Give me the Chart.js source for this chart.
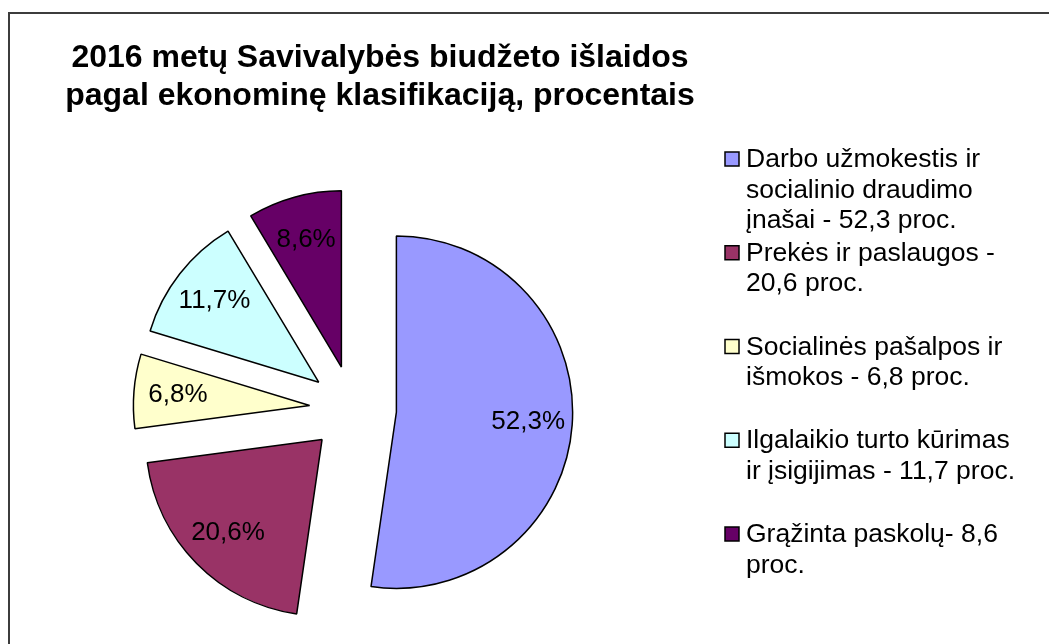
<!DOCTYPE html>
<html>
<head>
<meta charset="utf-8">
<script src="https://cdn.jsdelivr.net/npm/chart.js@4.4.0/dist/chart.umd.min.js"></script>
<style>
  html, body { margin: 0; padding: 0; background: #fff; overflow: hidden; }
</style>
</head>
<body>
<canvas id="myChart" width="1049" height="644"></canvas>
<script>
const categories = [
  'Darbo užmokestis ir socialinio draudimo įnašai - 52,3 proc.',
  'Prekės ir paslaugos - 20,6 proc.',
  'Socialinės pašalpos ir išmokos - 6,8 proc.',
  'Ilgalaikio turto kūrimas ir įsigijimas - 11,7 proc.',
  'Grąžinta paskolų- 8,6 proc.'
];
const values = [52.3, 20.6, 6.8, 11.7, 8.6];
const sliceLabels = ['52,3%', '20,6%', '6,8%', '11,7%', '8,6%'];
const titleLines = [
  '2016 metų Savivalybės biudžeto išlaidos',
  'pagal ekonominę klasifikaciją, procentais'
];

const colors = ['#9999FF', '#993366', '#FFFFCC', '#CCFFFF', '#660066'];
const font = '"Liberation Sans", Arial, sans-serif';
const explode = 43.5; // every slice is pulled out of the pie

function wrapText(ctx, text, maxW) {
  const words = text.split(' ');
  const lines = [];
  let line = '';
  words.forEach(function (w) {
    const test = line ? line + ' ' + w : w;
    if (line && ctx.measureText(test).width > maxW) {
      lines.push(line);
      line = w;
    } else {
      line = test;
    }
  });
  if (line) lines.push(line);
  return lines;
}

const decor = {
  id: 'decor',
  afterDatasetUpdate(chart, args) {
    args.meta.data.forEach(function (arc) {
      const mid = (arc.startAngle + arc.endAngle) / 2;
      arc.x += Math.cos(mid) * explode;
      arc.y += Math.sin(mid) * explode;
    });
  },
  beforeDraw(chart) {
    const ctx = chart.ctx;
    ctx.save();
    ctx.fillStyle = '#fff';
    ctx.fillRect(0, 0, chart.width, chart.height);
    ctx.strokeStyle = '#3c3c3c';
    ctx.lineWidth = 2;
    ctx.strokeRect(9, 13, chart.width + 20, chart.height + 20);
    ctx.restore();
  },
  afterDraw(chart) {
    const ctx = chart.ctx;
    ctx.save();

    // title
    ctx.fillStyle = '#000';
    ctx.textAlign = 'center';
    ctx.textBaseline = 'alphabetic';
    ctx.font = 'bold 32px ' + font;
    titleLines.forEach(function (t, i) {
      ctx.fillText(t, 380, 67 + i * 37.5);
    });

    // labels in the slices
    ctx.font = '26px ' + font;
    ctx.textBaseline = 'middle';
    chart.getDatasetMeta(0).data.forEach(function (arc, i) {
      const mid = (arc.startAngle + arc.endAngle) / 2;
      const r = arc.outerRadius * 0.75;
      ctx.fillText(sliceLabels[i], arc.x + Math.cos(mid) * r, arc.y + Math.sin(mid) * r);
    });

    // legend
    ctx.textAlign = 'left';
    ctx.textBaseline = 'alphabetic';
    ctx.font = '26.5px ' + font;
    categories.forEach(function (c, i) {
      const y = 167 + i * 93.75;
      ctx.fillStyle = colors[i];
      ctx.fillRect(725, y - 15, 14, 14);
      ctx.strokeStyle = '#000';
      ctx.lineWidth = 1.5;
      ctx.strokeRect(725, y - 15, 14, 14);
      ctx.fillStyle = '#000';
      wrapText(ctx, c, 285).forEach(function (line, j) {
        ctx.fillText(line, 746, y + j * 30.5);
      });
    });
    ctx.restore();
  }
};

const data = {
  labels: categories,
  datasets: [{
    data: values,
    backgroundColor: colors,
    borderColor: '#000',
    borderWidth: 1.5,
    clip: false
  }]
};

const config = {
  type: 'pie',
  data: data,
  options: {
    responsive: false,
    animation: false,
    layout: {
      padding: { left: 176, right: 519, top: 232, bottom: 58 }
    },
    plugins: {
      legend: { display: false },
      title: { display: false },
      tooltip: { enabled: false }
    }
  },
  plugins: [decor]
};

const myChart = new Chart(document.getElementById('myChart'), config);
</script>
</body>
</html>
